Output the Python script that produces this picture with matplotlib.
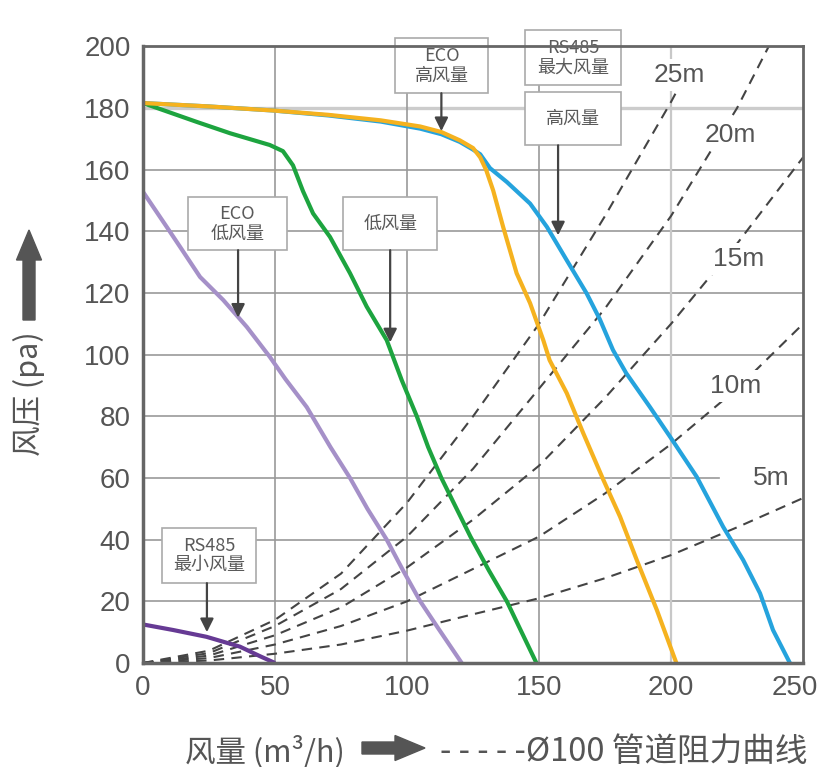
import matplotlib
matplotlib.use('Agg')
import matplotlib.pyplot as plt
import matplotlib.transforms as mtrans
from matplotlib.patches import Rectangle, FancyArrow

# fan curves (airflow m3/h, pressure pa)
max_x = [0, 25, 49, 70, 90, 105, 113, 120, 125, 127.7, 131.4, 137.8, 146.6, 153, 160.5, 168,
         173, 178, 183, 192, 199.6, 209.7, 219.7, 227.3, 233.7, 238.6, 245]
max_y = [181.6, 180.5, 179.2, 177.6, 175.6, 173.3, 171.5, 169, 166.5, 165, 160.5, 156, 149, 141.4,
         130.6, 119.9, 111.5, 101.5, 94, 83, 73.4, 60.4, 44.2, 33.4, 22.6, 10.7, 0]

eco_high_x = [0, 25, 49, 70, 90, 105, 113, 120, 125, 127.7, 130, 132.6, 136.4, 141.5, 146.6,
              151.6, 154, 160.5, 166.7, 174.4, 180.7, 187, 194.6, 202]
eco_high_y = [181.6, 180.5, 179.2, 177.8, 176, 174, 172.2, 169.5, 167, 164, 159.8, 153.3, 141.4,
              126.4, 116.7, 104.7, 98.2, 87.5, 74.6, 59.3, 47.4, 33.4, 17.2, 0]

low_x = [0, 20.3, 33, 48, 53, 56.8, 60.6, 64.4, 70.8, 78.4, 84.7, 92.3, 98, 103.7, 108, 113,
         124, 131, 137.8, 143, 149]
low_y = [181.6, 175.5, 171.8, 168, 166, 161.4, 153, 145.8, 138.2, 126.4, 115.6, 104.7, 91.7, 80,
         70, 60, 41, 30, 20, 10.7, 0]

eco_low_x = [0, 9, 14, 21.6, 30.4, 39.3, 48, 54, 62, 71, 78.4, 85, 92.3, 98.5, 105, 112, 120.7]
eco_low_y = [152.8, 141.4, 135, 125.2, 117.7, 109, 99.3, 92, 83, 70, 60, 50, 40, 30, 20, 11, 0]

min_x = [0, 11.4, 24, 36.7, 44.3, 50]
min_y = [12.5, 10.7, 8.5, 5.3, 2.2, 0]

# duct resistance curves, d100
duct_x = [0, 25, 50, 75, 100, 125, 150, 175, 200, 225, 250]
duct_5m = [0, 0.8, 3, 6, 10.5, 15.8, 21, 27.5, 35, 44, 53.5]
duct_10m = [0, 1.6, 6, 12, 20, 30.5, 41, 55, 71, 89, 110]
duct_15m = [0, 2.4, 9, 18, 31, 46.5, 64, 86, 110, 136, 164]
duct_20m_x = [0, 25, 50, 75, 100, 125, 150, 175, 200, 225, 237]
duct_20m = [0, 3.2, 12, 24, 41, 63, 89, 115, 145, 180, 200]
duct_25m_x = [0, 25, 50, 75, 100, 125, 150, 175, 200, 205]
duct_25m = [0, 4, 14, 29, 52, 80, 110, 145, 182, 190]

duct_labels = ['25m', '20m', '15m', '10m', '5m']
duct_label_pos = [(203, 190.6), (222.3, 171.2), (225.4, 131), (224.6, 89.8), (237.9, 60)]

x_ticks = [0, 50, 100, 150, 200, 250]
y_ticks = [0, 20, 40, 60, 80, 100, 120, 140, 160, 180, 200]

# callout boxes: text, box (x0, x1, y0, y1), arrow x, arrow tip y
callouts = [
    ('ECO\n高风量', (95.5, 130.7, 184.8, 202.6), 113, 172.5),
    ('RS485\n最大风量', (144.7, 181.1, 187.4, 205.2), None, None),
    ('高风量', (144.7, 181.1, 167.9, 185.1), 157.2, 138.7),
    ('ECO\n低风量', (17, 54.5, 133.9, 151), 36, 112),
    ('低风量', (75.8, 111.4, 133.9, 151), 93.6, 104),
    ('RS485\n最小风量', (7.2, 42.8, 25.9, 43.8), 24.2, 10),
]

cjk = ['Noto Sans CJK SC', 'DejaVu Sans']
num_font = 'Liberation Sans'
txt_color = '#555555'

fig = plt.figure(figsize=(8.22, 7.67), dpi=100)
ax = fig.add_axes([0.174, 0.1356, 0.803, 0.804])
ax.set_xlim(0, 250)
ax.set_ylim(0, 200)

# grid
for y in y_ticks[1:-1]:
    if y == 180:
        ax.axhline(y, color='#cccccc', lw=2.4, zorder=0)
    elif y == 60:
        ax.axhline(y, xmax=218 / 250, color='#999999', lw=1.2, zorder=0)
    else:
        ax.axhline(y, color='#999999', lw=1.2, zorder=0)
for x in x_ticks[1:-1]:
    c = '#c8c8c8' if x == 200 else '#999999'
    ax.axvline(x, color=c, lw=1.6 if x == 200 else 1.2, zorder=0)

# duct curves
dash = (0, (5, 3.5))
for xs, ys in [(duct_x, duct_5m), (duct_x, duct_10m), (duct_x, duct_15m),
               (duct_20m_x, duct_20m), (duct_25m_x, duct_25m)]:
    ax.plot(xs, ys, color='#444444', lw=1.5, linestyle=dash, zorder=1)

for lab, (lx, ly) in zip(duct_labels, duct_label_pos):
    ax.text(lx, ly, lab, ha='center', va='center', fontsize=19, color=txt_color,
            family=num_font, zorder=3,
            bbox=dict(boxstyle='square,pad=0.15', fc='white', ec='none'))

# fan curves
ax.plot(max_x, max_y, color='#25a3dd', lw=3, zorder=4, solid_capstyle='butt')
ax.plot(eco_high_x, eco_high_y, color='#f5b21f', lw=3, zorder=5, solid_capstyle='butt')
ax.plot(low_x, low_y, color='#1da43f', lw=3, zorder=4, solid_capstyle='butt')
ax.plot(eco_low_x, eco_low_y, color='#a590c8', lw=3, zorder=4, solid_capstyle='butt')
ax.plot(min_x, min_y, color='#663a94', lw=3, zorder=4, solid_capstyle='butt')

# callouts
for text, (x0, x1, y0, y1), axx, tipy in callouts:
    ax.add_patch(Rectangle((x0, y0), x1 - x0, y1 - y0, fc='white', ec='#aaaaaa',
                           lw=1.2, zorder=6, clip_on=False))
    ax.text((x0 + x1) / 2, (y0 + y1) / 2, text, ha='center', va='center', fontsize=13,
            color='#5a5a5a', family=cjk, linespacing=1.1, zorder=7)
    if axx is not None:
        ax.annotate('', xy=(axx, tipy), xytext=(axx, y0),
                    arrowprops=dict(arrowstyle='-|>', color='#444444', lw=1.6,
                                    mutation_scale=20, shrinkA=0, shrinkB=0),
                    zorder=6)

# axes styling
ax.set_xticks(x_ticks)
ax.set_yticks(y_ticks)
ax.tick_params(length=0, labelsize=20, colors=txt_color)
ax.tick_params(axis='x', pad=9)
ax.tick_params(axis='y', pad=9)
for lbl in ax.get_xticklabels() + ax.get_yticklabels():
    lbl.set_family(num_font)
# last x label sits slightly inside the figure edge
last = ax.get_xticklabels()[-1]
last.set_transform(last.get_transform() +
                   mtrans.ScaledTranslation(-0.08, 0, fig.dpi_scale_trans))
for side, sp in ax.spines.items():
    sp.set_color('#666666')
    sp.set_linewidth(2.5 if side in ('left', 'bottom') else 2.0)
    sp.set_zorder(8)

# axis labels with block arrows
fig.text(0.035, 0.487, '风压 (pa)', rotation=90, ha='center', va='center',
         fontsize=22, color=txt_color, family=cjk)
fig.add_artist(FancyArrow(0.29, 4.47, 0, 0.9, width=0.12, head_width=0.25,
                          head_length=0.3, length_includes_head=True,
                          color='#555555', transform=fig.dpi_scale_trans))

fig.text(0.225, 0.02, '风量 (m³/h)', ha='left', va='center', fontsize=22,
         color=txt_color, family=cjk)
fig.add_artist(FancyArrow(3.62, 0.19, 0.63, 0, width=0.12, head_width=0.25,
                          head_length=0.3, length_includes_head=True,
                          color='#555555', transform=fig.dpi_scale_trans))
fig.text(0.535, 0.02, '- - - - -Ø100 管道阻力曲线', ha='left', va='center', fontsize=23.5,
         color=txt_color, family=cjk)

fig.savefig('out.png', dpi=100)
